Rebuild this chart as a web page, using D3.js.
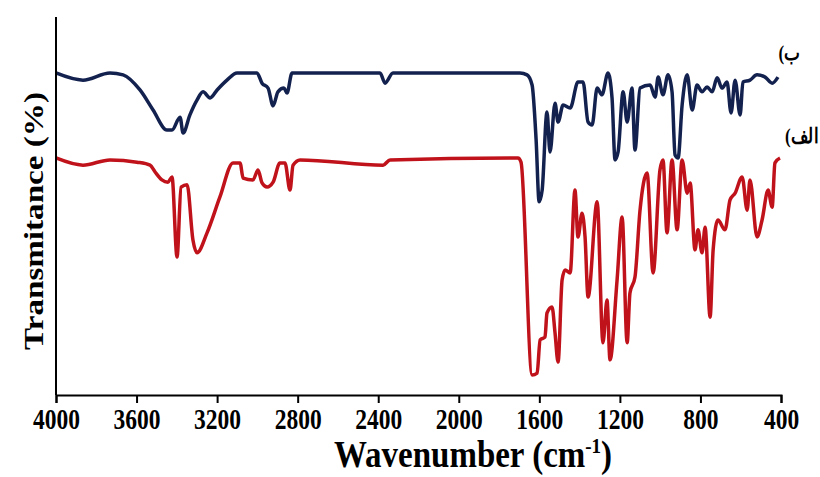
<!DOCTYPE html>
<html>
<head>
<meta charset="utf-8">
<script src="https://cdn.jsdelivr.net/npm/d3@7"></script>
<style>
  body { margin: 0; background: #fff; }
  text { font-family: "Liberation Serif", "Times New Roman", serif; font-weight: bold; }
</style>
</head>
<body>
<div id="chart"></div>
<script>
// tick labels on the wavenumber axis
var xTicks = [4000, 3600, 3200, 2800, 2400, 2000, 1600, 1200, 800, 400];

// spectrum ب (blue) : [wavenumber, transmittance]
var spectrumB = [
  [4000, 85.2], [3866, 83.3], [3732, 85.2], [3667, 84.7], [3583, 80.7], [3518, 75.4],
  [3449, 70.1], [3424, 70.1], [3384, 73.5], [3369, 69.3], [3335, 74.1], [3300, 78.0],
  [3270, 80.2], [3235, 78.6], [3200, 80.7], [3151, 83.3], [3101, 85.2], [3002, 85.2],
  [2977, 82.5], [2947, 81.2], [2922, 76.5], [2898, 80.2], [2868, 81.2], [2853, 79.9],
  [2828, 85.2], [2391, 85.2], [2366, 82.5], [2327, 85.2], [1696, 85.2], [1661, 84.7],
  [1636, 82.0], [1616, 67.5], [1601, 51.1], [1586, 54.2], [1562, 74.9], [1547, 64.3],
  [1522, 77.2], [1507, 72.2], [1482, 76.7], [1447, 75.9], [1408, 82.8], [1383, 82.8],
  [1358, 72.2], [1338, 71.4], [1313, 81.2], [1289, 79.4], [1259, 85.2], [1239, 78.6],
  [1224, 62.2], [1209, 64.3], [1184, 80.2], [1164, 72.2], [1140, 81.2], [1125, 64.8],
  [1100, 81.2], [1050, 82.0], [1025, 78.8], [1010, 84.1], [986, 79.4], [961, 84.7],
  [941, 80.2], [926, 63.5], [911, 62.7], [891, 76.7], [866, 84.7], [841, 75.4],
  [817, 82.0], [792, 80.2], [767, 81.5], [742, 80.2], [717, 83.9], [693, 81.2],
  [668, 82.8], [648, 74.6], [628, 83.3], [603, 74.1], [589, 82.8], [554, 83.3],
  [519, 84.7], [479, 84.1], [444, 82.5], [415, 84.1]
];

// spectrum الف (red) : [wavenumber, transmittance]
var spectrumA = [
  [4000, 62.7], [3866, 60.8], [3732, 62.2], [3598, 61.6], [3533, 60.8], [3508, 59.0],
  [3474, 56.9], [3444, 56.3], [3424, 57.7], [3399, 36.5], [3379, 55.0], [3349, 55.6],
  [3320, 41.0], [3300, 37.6], [3250, 42.9], [3186, 52.4], [3121, 61.4], [3086, 61.4],
  [3071, 57.4], [3022, 56.9], [2997, 59.5], [2977, 56.1], [2952, 55.0], [2922, 56.3],
  [2888, 61.4], [2863, 61.4], [2838, 54.2], [2823, 60.8], [2788, 62.2], [2376, 60.8],
  [2341, 62.2], [1706, 62.7], [1691, 61.6], [1636, 5.3], [1611, 5.8], [1596, 14.6],
  [1572, 15.3], [1562, 21.7], [1537, 23.3], [1522, 16.4], [1507, 8.7], [1487, 30.4],
  [1472, 33.1], [1447, 32.3], [1423, 54.2], [1408, 41.8], [1388, 48.1], [1373, 41.8],
  [1358, 25.9], [1313, 51.1], [1284, 13.8], [1264, 25.1], [1249, 9.3], [1214, 30.4],
  [1189, 47.1], [1164, 13.8], [1150, 27.0], [1125, 31.2], [1100, 48.9], [1065, 58.7],
  [1035, 32.3], [1001, 59.5], [986, 62.2], [966, 42.9], [941, 62.2], [916, 43.7],
  [891, 62.2], [866, 53.4], [851, 56.1], [827, 38.4], [812, 43.7], [792, 37.6],
  [777, 44.4], [752, 20.6], [737, 38.4], [713, 46.3], [678, 43.7], [653, 51.6],
  [628, 53.4], [593, 57.7], [568, 48.9], [554, 56.9], [519, 41.8], [494, 46.3],
  [464, 54.2], [444, 49.7], [430, 61.4], [405, 62.7]
];

var width = 820, height = 477;
var stretch = 1.25;   // the original figure's text is drawn taller than wide

var svg = d3.select('#chart').append('svg')
    .attr('width', width)
    .attr('height', height);

var x = d3.scaleLinear().domain([4000, 400]).range([56, 781]);
var y = d3.scaleLinear().domain([0, 100]).range([395, 17]);

var line = d3.line()
    .x(function(d) { return x(d[0]); })
    .y(function(d) { return y(d[1]); })
    .curve(d3.curveMonotoneX);

// the two spectra
svg.append('path')
    .datum(spectrumB)
    .attr('d', line)
    .attr('fill', 'none')
    .attr('stroke', '#13214f')
    .attr('stroke-width', 3.5)
    .attr('stroke-linejoin', 'round');

svg.append('path')
    .datum(spectrumA)
    .attr('d', line)
    .attr('fill', 'none')
    .attr('stroke', '#c0121a')
    .attr('stroke-width', 3.5)
    .attr('stroke-linejoin', 'round');

// x axis
var xAxis = svg.append('g')
    .attr('transform', 'translate(0,' + y(0) + ')')
    .call(d3.axisBottom(x).tickValues(xTicks).tickSize(8).tickFormat(d3.format('d')));
xAxis.select('.domain').attr('stroke', '#000').attr('stroke-width', 2);
xAxis.selectAll('.tick line').attr('stroke', '#000').attr('stroke-width', 2);
xAxis.selectAll('.tick text')
    .attr('fill', '#000')
    .attr('y', 34 / stretch)
    .attr('dy', 0)
    .attr('transform', 'scale(1,' + stretch + ')')
    .style('font-size', '23.5px');

// y axis line only, no ticks
svg.append('line')
    .attr('x1', x(4000)).attr('x2', x(4000))
    .attr('y1', y(100)).attr('y2', y(0))
    .attr('stroke', '#000')
    .attr('stroke-width', 2);

// axis titles
var xTitle = svg.append('text')
    .attr('transform', 'translate(473,467) scale(1,1.15)')
    .attr('text-anchor', 'middle')
    .style('font-size', '33px');
xTitle.append('tspan').text('Wavenumber (cm');
xTitle.append('tspan').attr('dy', -12).style('font-size', '19px').text('-1');
xTitle.append('tspan').attr('dy', 12).text(')');

svg.append('text')
    .attr('transform', 'translate(43,221) rotate(-90) scale(' + stretch + ',1)')
    .attr('text-anchor', 'middle')
    .style('font-size', '26.5px')
    .text('Transmitance (%)');

// series labels
svg.selectAll('.lbl')
    .data([{t: 'ب)', x: 800, y: 60}, {t: 'الف)', x: 818, y: 143}])
    .enter().append('text')
    .attr('class', 'lbl')
    .attr('transform', function(d) { return 'translate(' + d.x + ',' + d.y + ') scale(1,' + stretch + ')'; })
    .attr('direction', 'rtl')
    .attr('text-anchor', 'start')
    .style('font-size', '17px')
    .text(function(d) { return d.t; });
</script>
</body>
</html>
